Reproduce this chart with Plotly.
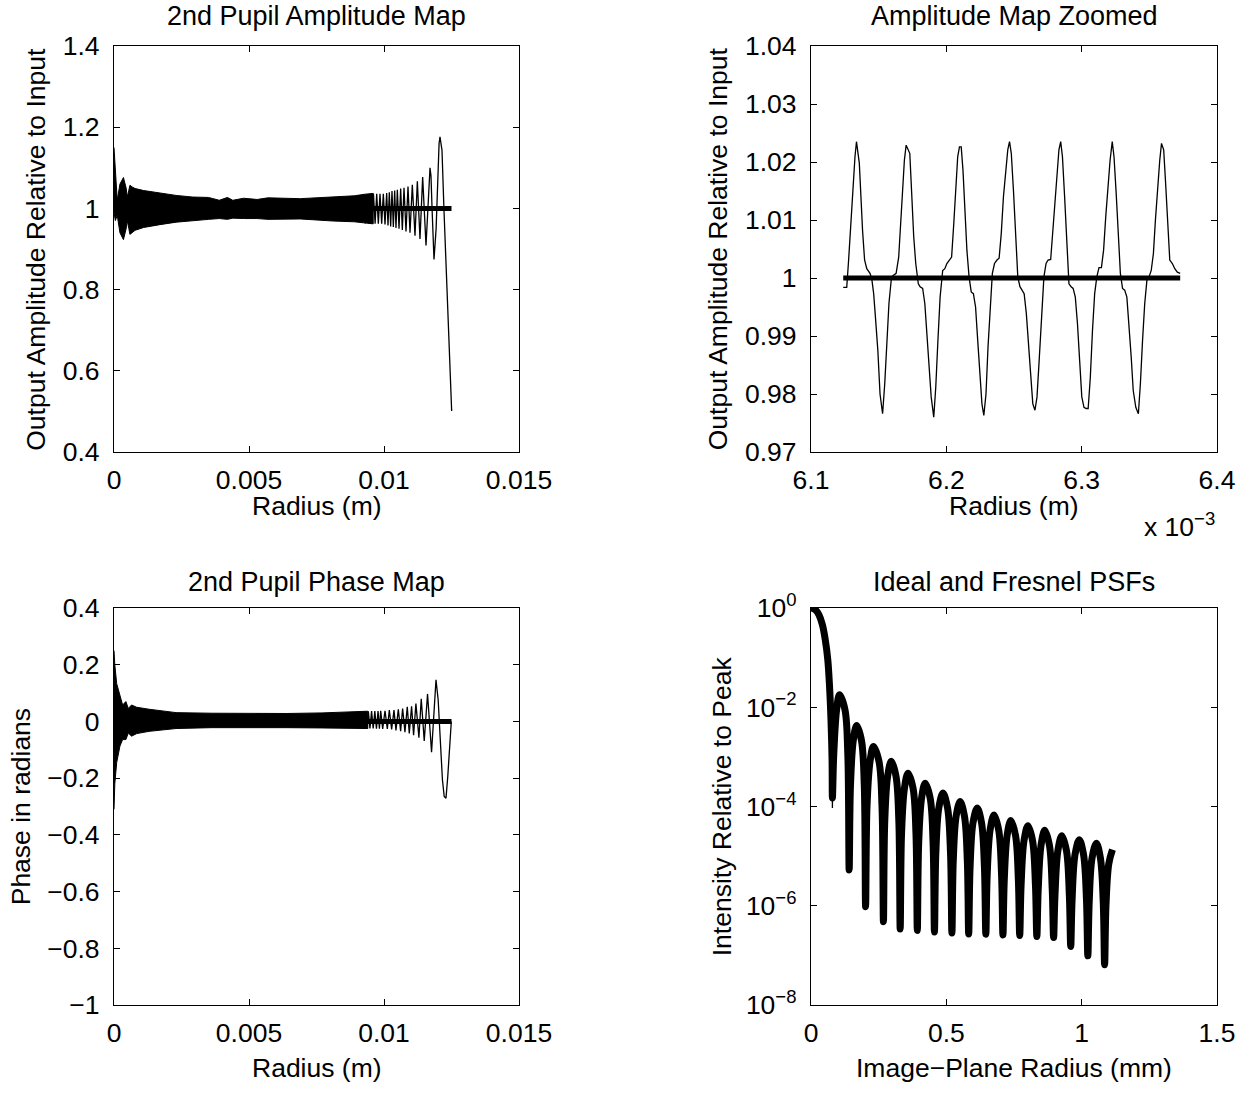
import plotly.graph_objects as go

# ---------------- DATA ----------------
# Top-left: 2nd pupil amplitude map
tl_ideal_x = [0.0, 0.0125]
tl_ideal_y = [1.0, 1.0]
# envelope of the densely oscillating (unresolved) part of the Fresnel curve
tl_env_x = [0.0, 0.00005, 0.00012, 0.00022, 0.00035, 0.00045, 0.00049, 0.00055, 0.00059,
            0.00067, 0.00078, 0.0011, 0.0017, 0.0023, 0.0029, 0.0035, 0.0039, 0.0042,
            0.0044, 0.0048, 0.0053, 0.0057, 0.0069, 0.0081, 0.0089, 0.0093, 0.0096]
tl_env_hi = [1.15, 1.09, 1.02, 1.06, 1.076, 1.05, 1.028, 1.045, 1.057, 1.053, 1.049, 1.044,
             1.038, 1.032, 1.028, 1.027, 1.020, 1.027, 1.020, 1.025, 1.022, 1.026, 1.024,
             1.029, 1.031, 1.035, 1.037]
tl_env_lo = [0.99, 0.97, 0.983, 0.94, 0.923, 0.95, 0.970, 0.95, 0.936, 0.941, 0.946, 0.953,
             0.960, 0.966, 0.970, 0.973, 0.975, 0.973, 0.976, 0.975, 0.975, 0.973, 0.974,
             0.969, 0.967, 0.964, 0.962]
# resolved oscillations near the pupil edge
tl_osc_x = [0.00925, 0.00931, 0.00937, 0.00943, 0.00949, 0.00955, 0.00961, 0.00967, 0.00973,
            0.00979, 0.009852, 0.009914, 0.009975, 0.010037, 0.010099, 0.010148, 0.010197,
            0.010247, 0.010296, 0.010346, 0.010395, 0.010444, 0.010494, 0.010556, 0.010617,
            0.010679, 0.010741, 0.010815, 0.010889, 0.010963, 0.011049, 0.011148, 0.011235,
            0.011333, 0.011432, 0.011556, 0.011704, 0.01174, 0.01178, 0.01182, 0.011852,
            0.01193, 0.01199, 0.01204, 0.012074, 0.01212, 0.012148, 0.012222, 0.01232,
            0.012407, 0.012506]
tl_osc_y = [1.035, 0.963, 1.035, 0.963, 1.035, 0.962, 1.036, 0.962, 1.036, 0.962,
            1.036, 0.962, 1.036, 0.9605, 1.038, 0.958, 1.040,
            0.9556, 1.043, 0.954, 1.044, 0.952, 1.046, 0.950, 1.049,
            0.947, 1.051, 0.943, 1.054, 0.940, 1.058, 0.933, 1.067,
            0.925, 1.077, 0.909, 1.100, 1.08, 1.0, 0.91, 0.874,
            0.95, 1.08, 1.16, 1.176, 1.16, 1.143, 0.995, 0.806,
            0.666, 0.501]

# Top-right: zoomed amplitude (radius in units of 1e-3 m)
tr_ideal_x = [6.1238, 6.3728]
tr_ideal_y = [1.0, 1.0]
tr_x = [6.1238, 6.1264, 6.1278, 6.1296, 6.1312, 6.1325, 6.1336, 6.1357, 6.1381, 6.1396,
        6.1412, 6.1436, 6.1449, 6.1463, 6.1476, 6.1494, 6.1510, 6.1529, 6.1545, 6.1560,
        6.1576, 6.1595, 6.1613, 6.1629, 6.1648, 6.1661, 6.1677, 6.1690, 6.1703, 6.1716,
        6.1730, 6.1743, 6.1759, 6.1774, 6.1793, 6.1806, 6.1825, 6.1841, 6.1856, 6.1872,
        6.1888, 6.1907, 6.1922, 6.1938, 6.1954, 6.1973, 6.1989, 6.2004, 6.2023, 6.2039,
        6.2055, 6.2071, 6.2084, 6.2097, 6.2110, 6.2123, 6.2137, 6.2152, 6.2168, 6.2184,
        6.2200, 6.2216, 6.2232, 6.2248, 6.2263, 6.2277, 6.2293, 6.2308, 6.2324, 6.2340,
        6.2356, 6.2374, 6.2390, 6.2406, 6.2422, 6.2438, 6.2454, 6.2467, 6.2480, 6.2496,
        6.2512, 6.2528, 6.2544, 6.2559, 6.2575, 6.2591, 6.2607, 6.2623, 6.2639, 6.2655,
        6.2670, 6.2686, 6.2705, 6.2721, 6.2737, 6.2752, 6.2771, 6.2787, 6.2803, 6.2819,
        6.2832, 6.2845, 6.2858, 6.2874, 6.2890, 6.2906, 6.2922, 6.2937, 6.2953, 6.2969,
        6.2985, 6.3001, 6.3017, 6.3033, 6.3048, 6.3064, 6.3080, 6.3096, 6.3112, 6.3128,
        6.3146, 6.3162, 6.3178, 6.3194, 6.3210, 6.3226, 6.3239, 6.3255, 6.3270, 6.3286,
        6.3302, 6.3318, 6.3334, 6.3350, 6.3366, 6.3381, 6.3400, 6.3419, 6.3434, 6.3450,
        6.3466, 6.3482, 6.3498, 6.3514, 6.3530, 6.3545, 6.3561, 6.3577, 6.3590, 6.3606,
        6.3619, 6.3635, 6.3651, 6.3670, 6.3688, 6.3707, 6.3728]
tr_y = [0.9984, 0.9984, 1.0031, 1.0106, 1.0169, 1.0209, 1.0235, 1.0198, 1.0082, 1.0031,
        1.0016, 1.0008, 0.9999, 0.9973, 0.9933, 0.9875, 0.9800, 0.9766, 0.9818, 0.9887,
        0.9956, 1.0002, 1.0005, 1.0008, 1.0036, 1.0082, 1.0151, 1.0203, 1.0229, 1.0223,
        1.0215, 1.0151, 1.0071, 1.0025, 0.9990, 0.9985, 0.9982, 0.9956, 0.9898, 0.9841,
        0.9795, 0.9760, 0.9812, 0.9893, 0.9967, 1.0013, 1.0016, 1.0025, 1.0031, 1.0036,
        1.0094, 1.0169, 1.0209, 1.0226, 1.0226, 1.0186, 1.0117, 1.0048, 1.0002, 0.9976,
        0.9973, 0.9950, 0.9892, 0.9824, 0.9783, 0.9763, 0.9800, 0.9881, 0.9956, 1.0008,
        1.0025, 1.0031, 1.0034, 1.0077, 1.0140, 1.0186, 1.0221, 1.0235, 1.0215, 1.0151,
        1.0071, 1.0002, 0.9985, 0.9979, 0.9973, 0.9939, 0.9881, 0.9824, 0.9783, 0.9772,
        0.9795, 0.9858, 0.9939, 1.0002, 1.0025, 1.0031, 1.0032, 1.0082, 1.0140, 1.0186,
        1.0221, 1.0235, 1.0209, 1.0140, 1.0060, 0.9990, 0.9985, 0.9982, 0.9967, 0.9921,
        0.9858, 0.9795, 0.9777, 0.9775, 0.9775, 0.9829, 0.9910, 0.9973, 1.0002, 1.0018,
        1.0018, 1.0048, 1.0106, 1.0157, 1.0203, 1.0235, 1.0209, 1.0146, 1.0071, 1.0008,
        0.9982, 0.9979, 0.9967, 0.9921, 0.9864, 0.9806, 0.9777, 0.9766, 0.9818, 0.9893,
        0.9956, 0.9996, 1.0002, 1.0013, 1.0042, 1.0100, 1.0157, 1.0203, 1.0232, 1.0221,
        1.0169, 1.0100, 1.0031, 1.0025, 1.0016, 1.0010, 1.0008]

# Bottom-left: 2nd pupil phase map
bl_ideal_x = [0.0, 0.0125]
bl_ideal_y = [0.0, 0.0]
bl_env_x = [0.0, 0.00003, 0.0001, 0.00022, 0.00032, 0.00044, 0.00053, 0.00065, 0.00084,
            0.0013, 0.0023, 0.0036, 0.005, 0.0064, 0.0077, 0.009, 0.0094]
bl_env_hi = [0.25, 0.20, 0.133, 0.093, 0.058, 0.070, 0.046, 0.058, 0.050, 0.043, 0.031,
             0.029, 0.028, 0.028, 0.030, 0.034, 0.036]
bl_env_lo = [-0.31, -0.22, -0.145, -0.087, -0.064, -0.064, -0.041, -0.052, -0.043, -0.035,
             -0.025, -0.022, -0.022, -0.022, -0.023, -0.025, -0.025]
bl_osc_x = [0.00924, 0.00930, 0.00936, 0.00942, 0.00948, 0.00954, 0.00960, 0.00966, 0.00972,
            0.00978, 0.00983, 0.009877, 0.009951, 0.010037, 0.010123, 0.010197, 0.010283,
            0.010370, 0.010443, 0.010530, 0.010616, 0.010690, 0.010776, 0.010862, 0.010936,
            0.011022, 0.011096, 0.011182, 0.011293, 0.011379, 0.011490, 0.011613, 0.011761,
            0.011926, 0.012006, 0.012098, 0.012164, 0.012230, 0.012296, 0.012362, 0.012428,
            0.012493]
bl_osc_y = [-0.025, 0.036, -0.025, 0.036, -0.025, 0.037, -0.025, 0.037, -0.026,
            0.037, -0.026, 0.0377, -0.0263, 0.0377, -0.0263, 0.040, -0.0286,
            0.040, -0.032, 0.0423, -0.0343, 0.0457, -0.0377, 0.0514, -0.0423,
            0.0537, -0.049, 0.0629, -0.057, 0.080, -0.0686, 0.097, -0.1086,
            0.147, 0.0765, -0.0882, -0.2059, -0.2647, -0.2706, -0.1941, -0.0882,
            0.0]

# Bottom-right: PSF, radius in mm and log10 of intensity relative to peak
psf_r = [0.0, 0.0158, 0.029, 0.042, 0.0527, 0.062, 0.0685, 0.0738, 0.0778, 0.0791,
         0.0841, 0.0946, 0.1054, 0.1255, 0.1360, 0.1410,
         0.1459, 0.1562, 0.1687, 0.1865, 0.1968, 0.2017,
         0.2070, 0.2182, 0.2307, 0.2511, 0.2623, 0.2676,
         0.2726, 0.2831, 0.2966, 0.3140, 0.3245, 0.3295,
         0.3346, 0.3453, 0.3585, 0.3770, 0.3877, 0.3928,
         0.3979, 0.4086, 0.4218, 0.4403, 0.4510, 0.4561,
         0.4613, 0.4722, 0.4877, 0.5045, 0.5154, 0.5206,
         0.5256, 0.5361, 0.5510, 0.5671, 0.5776, 0.5826,
         0.5877, 0.5984, 0.6142, 0.6301, 0.6408, 0.6459,
         0.6510, 0.6617, 0.6762, 0.6933, 0.7040, 0.7091,
         0.7141, 0.7246, 0.7381, 0.7556, 0.7661, 0.7711,
         0.7762, 0.7869, 0.8014, 0.8186, 0.8293, 0.8344,
         0.8394, 0.8499, 0.8634, 0.8808, 0.8913, 0.8963,
         0.9014, 0.9121, 0.9266, 0.9438, 0.9545, 0.9596,
         0.9647, 0.9754, 0.9912, 1.0070, 1.0177, 1.0228,
         1.0278, 1.0383, 1.0545, 1.0693, 1.0798, 1.0848,
         1.0898, 1.1003, 1.1138]
psf_log10 = [0.0, -0.034, -0.134, -0.336, -0.64, -1.04, -1.58, -2.25, -3.06, -3.83,
             -2.95, -2.05, -1.75, -2.05, -2.95, -5.28,
             -3.57, -2.67, -2.37, -2.67, -3.57, -6.02,
             -3.99, -3.09, -2.79, -3.09, -3.99, -6.32,
             -4.29, -3.39, -3.09, -3.39, -4.29, -6.47,
             -4.53, -3.63, -3.33, -3.63, -4.53, -6.50,
             -4.73, -3.83, -3.53, -3.83, -4.73, -6.53,
             -4.93, -4.03, -3.73, -4.03, -4.93, -6.55,
             -5.10, -4.20, -3.90, -4.20, -5.10, -6.57,
             -5.23, -4.33, -4.03, -4.33, -5.23, -6.575,
             -5.37, -4.47, -4.17, -4.47, -5.37, -6.59,
             -5.48, -4.58, -4.28, -4.58, -5.48, -6.60,
             -5.59, -4.69, -4.39, -4.69, -5.59, -6.62,
             -5.68, -4.78, -4.48, -4.78, -5.68, -6.64,
             -5.79, -4.89, -4.59, -4.89, -5.79, -6.82,
             -5.87, -4.97, -4.67, -4.97, -5.87, -7.01,
             -5.94, -5.04, -4.74, -5.04, -5.94, -7.19,
             -6.0, -5.15, -4.87]
psf_thin_r = [0.0786, 0.0791, 0.0796]
psf_thin_log10 = [-3.5, -4.03, -3.5]

# tick labels
tl_xticks = [0, 0.005, 0.01, 0.015]
tl_xtext = ["0", "0.005", "0.01", "0.015"]
tl_yticks = [0.4, 0.6, 0.8, 1.0, 1.2, 1.4]
tl_ytext = ["0.4", "0.6", "0.8", "1", "1.2", "1.4"]
tr_xticks = [6.1, 6.2, 6.3, 6.4]
tr_xtext = ["6.1", "6.2", "6.3", "6.4"]
tr_yticks = [0.97, 0.98, 0.99, 1.0, 1.01, 1.02, 1.03, 1.04]
tr_ytext = ["0.97", "0.98", "0.99", "1", "1.01", "1.02", "1.03", "1.04"]
bl_yticks = [-1.0, -0.8, -0.6, -0.4, -0.2, 0.0, 0.2, 0.4]
bl_ytext = ["\u22121", "\u22120.8", "\u22120.6", "\u22120.4", "\u22120.2", "0", "0.2", "0.4"]
br_xticks = [0, 0.5, 1, 1.5]
br_xtext = ["0", "0.5", "1", "1.5"]
br_yticks = [1e-8, 1e-6, 1e-4, 1e-2, 1]
br_ytext = ["10<sup>\u22128</sup>", "10<sup>\u22126</sup>", "10<sup>\u22124</sup>",
            "10<sup>\u22122</sup>", "10<sup>0</sup>"]

# ---------------- FIGURE ----------------
W, H = 1258, 1094
FONT = "Liberation Sans, Arial, Helvetica, sans-serif"
TICK = 26.5
THIN = 1.3


def fx(p):
    return p / W


def fy(p):
    return 1 - p / H


fig = go.Figure()

# top-left
fig.add_trace(go.Scatter(x=tl_env_x + tl_env_x[::-1], y=tl_env_hi + tl_env_lo[::-1],
                         fill="toself", fillcolor="black", mode="lines",
                         line=dict(color="black", width=1), xaxis="x", yaxis="y"))
fig.add_trace(go.Scatter(x=tl_osc_x, y=tl_osc_y, mode="lines",
                         line=dict(color="black", width=THIN), xaxis="x", yaxis="y"))
fig.add_trace(go.Scatter(x=tl_ideal_x, y=tl_ideal_y, mode="lines",
                         line=dict(color="black", width=5), xaxis="x", yaxis="y"))
# top-right
fig.add_trace(go.Scatter(x=tr_x, y=tr_y, mode="lines",
                         line=dict(color="black", width=THIN), xaxis="x2", yaxis="y2"))
fig.add_trace(go.Scatter(x=tr_ideal_x, y=tr_ideal_y, mode="lines",
                         line=dict(color="black", width=5), xaxis="x2", yaxis="y2"))
# bottom-left
fig.add_trace(go.Scatter(x=bl_env_x + bl_env_x[::-1], y=bl_env_hi + bl_env_lo[::-1],
                         fill="toself", fillcolor="black", mode="lines",
                         line=dict(color="black", width=1), xaxis="x3", yaxis="y3"))
fig.add_trace(go.Scatter(x=bl_osc_x, y=bl_osc_y, mode="lines",
                         line=dict(color="black", width=THIN), xaxis="x3", yaxis="y3"))
fig.add_trace(go.Scatter(x=bl_ideal_x, y=bl_ideal_y, mode="lines",
                         line=dict(color="black", width=5), xaxis="x3", yaxis="y3"))
# bottom-right
fig.add_trace(go.Scatter(x=psf_thin_r, y=[10 ** v for v in psf_thin_log10], mode="lines",
                         line=dict(color="black", width=1.3), xaxis="x4", yaxis="y4"))
fig.add_trace(go.Scatter(x=psf_r, y=[10 ** v for v in psf_log10], mode="lines",
                         line=dict(color="black", width=7, shape="spline", smoothing=1.0),
                         xaxis="x4", yaxis="y4"))

axis_style = dict(showline=True, linecolor="black", linewidth=1.4, mirror="ticks",
                  ticks="inside", ticklen=6, tickwidth=1, tickcolor="black",
                  showgrid=False, zeroline=False, automargin=False, fixedrange=True,
                  tickfont=dict(family=FONT, size=TICK, color="black"))
xstyle = dict(axis_style, ticklabelstandoff=4)
ystyle = dict(axis_style, ticklabelstandoff=8)

colL = [fx(114), fx(519)]
colR = [fx(811), fx(1217)]
rowT = [fy(452), fy(46)]
rowB = [fy(1005), fy(608)]

fig.update_layout(
    width=W, height=H, margin=dict(l=0, r=0, t=0, b=0),
    paper_bgcolor="white", plot_bgcolor="white", showlegend=False,
    font=dict(family=FONT, size=TICK, color="black"),
    xaxis=dict(xstyle, domain=colL, anchor="y", range=[0, 0.015],
               tickvals=tl_xticks, ticktext=tl_xtext),
    yaxis=dict(ystyle, domain=rowT, anchor="x", range=[0.4, 1.4],
               tickvals=tl_yticks, ticktext=tl_ytext),
    xaxis2=dict(xstyle, domain=colR, anchor="y2", range=[6.1, 6.4],
                tickvals=tr_xticks, ticktext=tr_xtext),
    yaxis2=dict(ystyle, domain=rowT, anchor="x2", range=[0.97, 1.04],
                tickvals=tr_yticks, ticktext=tr_ytext),
    xaxis3=dict(xstyle, domain=colL, anchor="y3", range=[0, 0.015],
                tickvals=tl_xticks, ticktext=tl_xtext),
    yaxis3=dict(ystyle, domain=rowB, anchor="x3", range=[-1, 0.4],
                tickvals=bl_yticks, ticktext=bl_ytext),
    xaxis4=dict(xstyle, domain=colR, anchor="y4", range=[0, 1.5],
                tickvals=br_xticks, ticktext=br_xtext),
    yaxis4=dict(ystyle, domain=rowB, anchor="x4", type="log", range=[-8, 0],
                tickvals=br_yticks, ticktext=br_ytext),
)


def ann(text, x, y, size=TICK, angle=0, xanchor="center", yanchor="middle"):
    fig.add_annotation(text=text, x=x, y=y, xref="paper", yref="paper", showarrow=False,
                       xanchor=xanchor, yanchor=yanchor, textangle=angle, borderpad=0,
                       font=dict(family=FONT, size=size, color="black"))


TITLE = 27
ann("2nd Pupil Amplitude Map", fx(316.5), fy(15.6), TITLE)
ann("Amplitude Map Zoomed", fx(1014), fy(15.6), TITLE)
ann("2nd Pupil Phase Map", fx(316.5), fy(582), TITLE)
ann("Ideal and Fresnel PSFs", fx(1014), fy(582), TITLE)

ann("Radius (m)", fx(316.5), fy(506))
ann("Radius (m)", fx(1014), fy(506))
ann("Radius (m)", fx(316.5), fy(1068))
ann("Image\u2212Plane Radius (mm)", fx(1014), fy(1068))

ann("Output Amplitude Relative to Input", fx(35.8), fy(249), angle=-90)
ann("Output Amplitude Relative to Input", fx(718.3), fy(249), angle=-90)
ann("Phase in radians", fx(20.8), fy(806.5), angle=-90)
ann("Intensity Relative to Peak", fx(721.8), fy(806.5), angle=-90)

ann("x 10<sup>\u22123</sup>", fx(1143), fy(542.6), xanchor="left", yanchor="bottom")

fig.write_html("out.html")
